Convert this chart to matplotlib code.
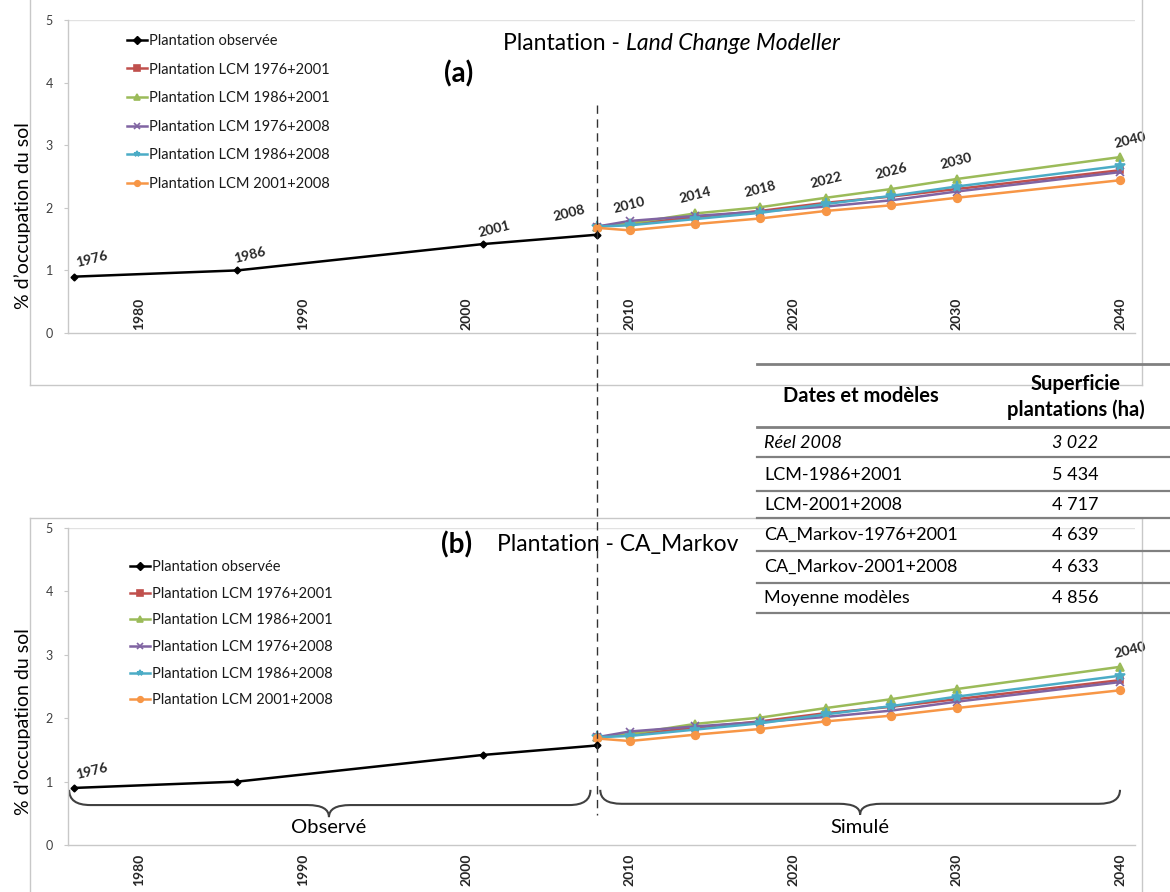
import matplotlib
matplotlib.use('Agg')
import matplotlib.pyplot as plt
from matplotlib.path import Path
from matplotlib.patches import PathPatch
from matplotlib.lines import Line2D
import matplotlib.transforms as mtrans

plt.rcParams['font.family'] = ['Lato', 'DejaVu Sans']

# ---------------- data ----------------
obs_years = [1976, 1986, 2001, 2008]
obs_values = [0.90, 1.00, 1.42, 1.57]

sim_years = [2008, 2010, 2014, 2018, 2022, 2026, 2030, 2040]
lcm_1976_2001 = [1.70, 1.74, 1.85, 1.95, 2.08, 2.18, 2.30, 2.60]
lcm_1986_2001 = [1.70, 1.75, 1.91, 2.01, 2.16, 2.30, 2.46, 2.81]
lcm_1976_2008 = [1.70, 1.79, 1.87, 1.94, 2.02, 2.12, 2.26, 2.57]
lcm_1986_2008 = [1.70, 1.72, 1.82, 1.92, 2.06, 2.19, 2.34, 2.67]
lcm_2001_2008 = [1.68, 1.64, 1.74, 1.83, 1.95, 2.04, 2.16, 2.44]

series_labels = ['Plantation observée', 'Plantation LCM 1976+2001', 'Plantation LCM 1986+2001',
                 'Plantation LCM 1976+2008', 'Plantation LCM 1986+2008', 'Plantation LCM 2001+2008']

xtick_years = [1980, 1990, 2000, 2010, 2020, 2030, 2040]
ytick_values = [0, 1, 2, 3, 4, 5]

labels_top = [1976, 1986, 2001, 2008, 2010, 2014, 2018, 2022, 2026, 2030, 2040]
labels_bottom = [1976, 2040]

table_header = ['Dates et modèles', 'Superficie\nplantations (ha)']
table_rows = ['Réel 2008', 'LCM-1986+2001', 'LCM-2001+2008',
              'CA_Markov-1976+2001', 'CA_Markov-2001+2008', 'Moyenne modèles']
table_values = ['3 022', '5 434', '4 717', '4 639', '4 633', '4 856']

# ---------------- figure ----------------
W, H = 1170, 892
fig = plt.figure(figsize=(W / 100, H / 100), dpi=100)


def fx(px):
    return px / W


def fy(py):
    return 1 - py / H


XL, XR = 68, 1135
x_per_year = (1120 - 597) / 32.0
xlim = (2008 - (597 - XL) / x_per_year, 2008 + (XR - 597) / x_per_year)

ax_top = fig.add_axes([fx(XL), fy(333), fx(XR) - fx(XL), fy(20) - fy(333)])
ax_bot = fig.add_axes([fx(XL), fy(845), fx(XR) - fx(XL), fy(528) - fy(845)])

colors = ['black', '#C0504D', '#9BBB59', '#8064A2', '#4BACC6', '#F79646']
markers = ['D', 's', '^', 'x', '*', 'o']
msizes = [3.5, 5, 6, 6, 8, 5.5]
sim_series = [lcm_1976_2001, lcm_1986_2001, lcm_1976_2008, lcm_1986_2008, lcm_2001_2008]


def label_offset(year):
    if year == 1976:
        return (18, 17)
    if year in (1986, 2001):
        return (12, 15)
    if year == 2008:
        return (-28, 22)
    if year == 2040:
        return (10, 17)
    return (0, 18)


def draw_chart(ax, label_years, legend_xy, legend_spacing, inside_ticks, ylab_center):
    handles = []
    h, = ax.plot(obs_years, obs_values, color=colors[0], lw=1.8, marker=markers[0],
                 ms=msizes[0], label=series_labels[0], zorder=5, clip_on=False)
    handles.append(h)
    for i, s in enumerate(sim_series, start=1):
        h, = ax.plot(sim_years, s, color=colors[i], lw=1.8, marker=markers[i], ms=msizes[i],
                     mec=colors[i], mew=1.2, label=series_labels[i], zorder=4, clip_on=False)
        handles.append(h)
    ax.set_xlim(*xlim)
    ax.set_ylim(0, 5)
    for sp in ['top', 'right']:
        ax.spines[sp].set_visible(False)
    for sp in ['left', 'bottom']:
        ax.spines[sp].set_color('#C8C8C8')
        ax.spines[sp].set_linewidth(1.0)
    ax.axhline(5, color='#E2E2E2', lw=1.0, zorder=0)
    ax.set_yticks(ytick_values)
    ax.tick_params(axis='y', length=3, color='#C8C8C8', pad=8, labelsize=9, labelcolor='#404040')
    ax.set_xticks(xtick_years)
    if inside_ticks:
        ax.set_xticklabels([])
        ax.tick_params(axis='x', length=0)
        for yr in xtick_years:
            ax.text(yr, 0.05, str(yr), rotation=90, ha='center', va='bottom',
                    fontsize=10, fontweight='bold', color='#262626')
    else:
        ax.set_xticklabels([str(y) for y in xtick_years], rotation=90, fontweight='bold',
                           fontsize=10, color='#262626')
        ax.tick_params(axis='x', length=0, pad=6)
    ax.set_ylabel('% d’occupation du sol', fontsize=14)
    axw = fx(XR) - fx(XL)
    ax.yaxis.set_label_coords((fx(32) - fx(XL)) / axw, ylab_center)
    for yr in label_years:
        if yr in obs_years:
            v = obs_values[obs_years.index(yr)]
        else:
            v = lcm_1986_2001[sim_years.index(yr)]
        ax.annotate(str(yr), xy=(yr, v), xytext=label_offset(yr), textcoords='offset pixels',
                    ha='center', va='center', fontsize=10, fontweight='bold', rotation=14,
                    color='#262626', annotation_clip=False)
    leg = ax.legend(handles=handles, loc='upper left',
                    bbox_to_anchor=(fx(legend_xy[0]), fy(legend_xy[1])),
                    bbox_transform=fig.transFigure, frameon=False, fontsize=10.5,
                    borderpad=0, borderaxespad=0, handlelength=1.35, handletextpad=0.15,
                    labelspacing=legend_spacing, numpoints=1)
    for lh in leg.get_lines():
        lh.set_markersize(4)
    for t in leg.get_texts():
        t.set_color('#1a1a1a')
    return ax


draw_chart(ax_top, labels_top, (127, 34), 1.0, True, (333 - 216) / 313)
draw_chart(ax_bot, labels_bottom, (130, 560), 0.87, False, (845 - 722) / 317)

# titles
t1 = fig.text(fx(503), fy(43), 'Plantation - ', fontsize=16.5, va='center', ha='left')
fig.canvas.draw()
bb = t1.get_window_extent()
fig.text(bb.x1 / W, fy(43), 'Land Change Modeller', fontsize=16.5, style='italic',
         va='center', ha='left')
fig.text(fx(459), fy(74), '(a)', fontsize=20, fontweight='bold', va='center', ha='center')
fig.text(fx(457), fy(545), '(b)', fontsize=20, fontweight='bold', va='center', ha='center')
fig.text(fx(497), fy(545), 'Plantation - CA_Markov', fontsize=16.5, va='center', ha='left')

# chart frames
fc = '#C8C8C8'
for (x0, y0, x1, y1) in [(30, -2, 30, 385), (30, 385, 1142, 385), (1142, -2, 1142, 385),
                         (30, 518, 1142, 518), (30, 518, 30, 900), (1142, 518, 1142, 900)]:
    fig.add_artist(Line2D([fx(x0), fx(x1)], [fy(y0), fy(y1)], color=fc, lw=1.0,
                          transform=fig.transFigure))

# dashed separator at 2008 across both charts
tr = mtrans.blended_transform_factory(ax_top.transData, fig.transFigure)
fig.add_artist(Line2D([2008, 2008], [fy(105), fy(815)], color='#333333', lw=1.0,
                      ls=(0, (6, 4)), transform=tr, zorder=10))


def brace(ax, x0, x1, xc, ytop, ymid, ybot, q=1.3):
    verts = [(x0, ytop), (x0, ymid), (x0 + q, ymid), (xc - q, ymid), (xc, ymid), (xc, ybot),
             (xc, ymid), (xc + q, ymid), (x1 - q, ymid), (x1, ymid), (x1, ytop)]
    codes = [Path.MOVETO, Path.CURVE3, Path.CURVE3, Path.LINETO, Path.CURVE3, Path.CURVE3,
             Path.CURVE3, Path.CURVE3, Path.LINETO, Path.CURVE3, Path.CURVE3]
    ax.add_patch(PathPatch(Path(verts, codes), fill=False, ec='#404040', lw=1.5, clip_on=False))


brace(ax_bot, 1975.7, 2007.6, 1991.6, 0.87, 0.63, 0.44)
brace(ax_bot, 2008.2, 2040.0, 2024.1, 0.87, 0.65, 0.48)
ax_bot.text(1991.6, 0.27, 'Observé', ha='center', va='center', fontsize=14.5)
ax_bot.text(2024.1, 0.28, 'Simulé', ha='center', va='center', fontsize=14.5)

# table
lc = '#808080'
line_ys = [364, 427, 457, 491, 518, 551, 583, 613]
for i, yy in enumerate(line_ys):
    fig.add_artist(Line2D([fx(757), fx(1170)], [fy(yy), fy(yy)], color=lc,
                          lw=2.0 if i < 2 else 1.6, transform=fig.transFigure))
fig.text(fx(783), fy(396), table_header[0], fontsize=14.5, fontweight='bold', va='center', ha='left')
fig.text(fx(1076), fy(397), table_header[1], fontsize=14.5, fontweight='bold', va='center',
         ha='center', linespacing=1.3)
row_centers = [443, 475, 505, 535, 567, 598]
for j, (name, val) in enumerate(zip(table_rows, table_values)):
    st = 'italic' if j == 0 else 'normal'
    fig.text(fx(764), fy(row_centers[j]), name, fontsize=13, style=st, va='center', ha='left')
    fig.text(fx(1075), fy(row_centers[j]), val, fontsize=13, style=st, va='center', ha='center')

fig.savefig('out.png', dpi=100)
